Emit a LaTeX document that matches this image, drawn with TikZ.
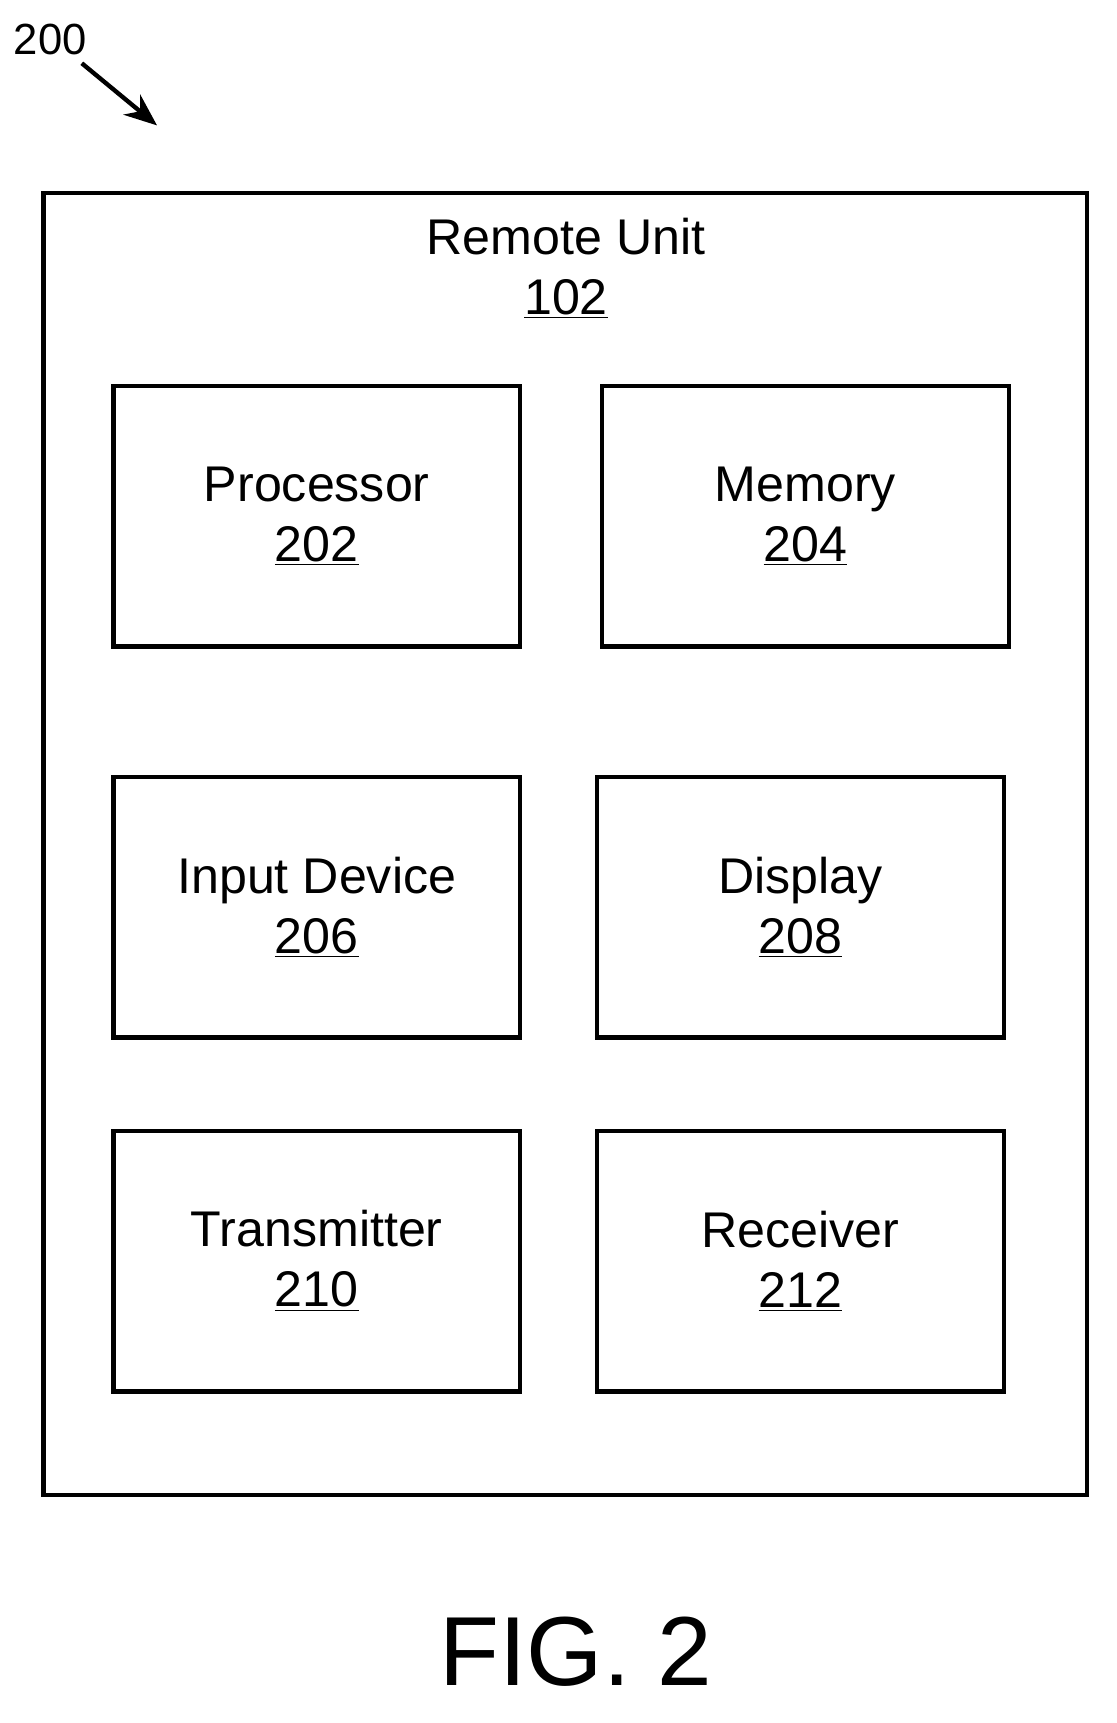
\documentclass[tikz,border=0pt]{standalone}
\usepackage{fontspec}
\setmainfont{Liberation Sans}
\usetikzlibrary{arrows.meta}
\tikzset{
  unit/.style={draw, line width=2pt, minimum width=186.5pt, minimum height=119.5pt,
    align=center, font=\fontsize{23}{27.5}\selectfont, inner sep=0pt},
}
\begin{document}
\begin{tikzpicture}[x=0.5pt, y=-0.5pt]
\useasboundingbox (0,0) rectangle (1024,1580);

% Outer unit
\draw[line width=2pt] (40,177) rectangle (997,1371);
\node[align=center, font=\fontsize{23}{27.5}\selectfont] (remote) at (519,246) {Remote Unit\\\underline{102}};

% Components
\node[unit] (proc) at (290.5,473.5) {Processor\\\underline{202}};
\node[unit] (mem) at (738.5,473.5) {Memory\\\underline{204}};
\node[unit] (input) at (290.5,832) {Input Device\\\underline{206}};
\node[unit] (disp) at (734,832) {Display\\\underline{208}};
\node[unit] (tx) at (290.5,1156.5) {Transmitter\\\underline{210}};
\node[unit] (rx) at (734,1156.5) {Receiver\\\underline{212}};

% Reference label
\node[font=\fontsize{20}{24}\selectfont] (ref) at (46,36) {200};
\coordinate (tip) at (144,115);
\draw[line width=2pt, -{Stealth[length=15pt, width=12pt]}] (75,58) -- (tip);

% Caption
\node[font=\fontsize{45}{50}\selectfont] (fig) at (528,1515) {FIG. 2};
\end{tikzpicture}
\end{document}
